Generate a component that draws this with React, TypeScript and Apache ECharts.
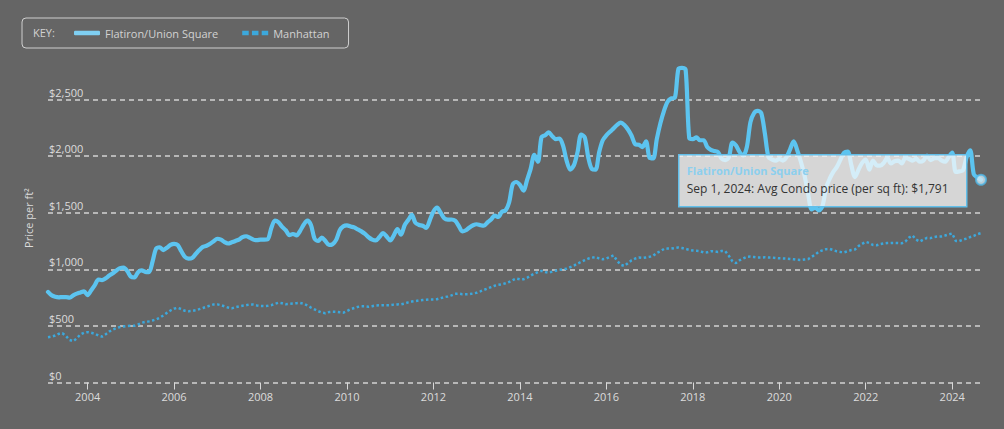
import React, { useEffect, useRef } from "react";
import * as echarts from "echarts";

// Monthly series, Feb 2003 .. Sep 2024
const START_YEAR = 2003;
const START_MONTH = 2; // February
const MONTH_NAMES = ["Jan", "Feb", "Mar", "Apr", "May", "Jun", "Jul", "Aug", "Sep", "Oct", "Nov", "Dec"];

const flatiron: number[] = [
  800, 770, 757, 752, 755, 755, 750, 770, 785, 795, 805, 772,
  815, 860, 910, 904, 920, 945, 965, 990, 1010, 1016, 985, 935,
  928, 975, 990, 977, 975, 1065, 1183, 1195, 1170, 1190, 1215, 1225,
  1215, 1160, 1110, 1095, 1100, 1135, 1170, 1198, 1208, 1225, 1248, 1270,
  1262, 1240, 1228, 1238, 1250, 1262, 1285, 1292, 1280, 1262, 1257, 1263,
  1262, 1265, 1365, 1430, 1415, 1375, 1345, 1302, 1312, 1300, 1340, 1395,
  1430, 1392, 1270, 1250, 1280, 1250, 1215, 1222, 1260, 1345, 1380, 1388,
  1378, 1370, 1352, 1335, 1312, 1283, 1262, 1255, 1285, 1320, 1290, 1255,
  1300, 1355, 1305, 1389, 1435, 1480, 1410, 1392, 1385, 1365, 1435, 1510,
  1545, 1500, 1450, 1438, 1440, 1430, 1385, 1335, 1345, 1370, 1389, 1398,
  1390, 1385, 1415, 1440, 1475, 1462, 1508, 1520, 1590, 1750, 1771, 1745,
  1695, 1790, 1890, 2010, 1950, 2168, 2185, 2210, 2175, 2150, 2155, 2090,
  1955, 1880, 1920, 2035, 2190, 2165, 1985, 1885, 1880, 2035, 2140, 2183,
  2215, 2245, 2275, 2295, 2275, 2235, 2180, 2105, 2100, 2080, 2130, 1985,
  1980, 2150, 2290, 2400, 2480, 2510, 2515, 2770, 2780, 2765, 2160, 2150,
  2165, 2140, 2140, 2080, 2055, 2045, 2035, 1977, 1965, 1990, 2120, 2094,
  2035, 2006, 2080, 2300, 2380, 2400, 2380, 2200, 1990, 1970, 1960, 1975,
  1960, 1990, 2060, 2130, 2050, 1950, 1830, 1670, 1530, 1545, 1520, 1560,
  1720, 1800, 1860, 1905, 1970, 2030, 2040, 1920, 1815, 1880, 1940, 1970,
  1880, 1960, 1920, 1915, 1940, 1985, 1935, 1955, 1960, 1935, 1985, 1975,
  1960, 1977, 1950, 1960, 2005, 1965, 1980, 1985, 1962, 1950, 1990, 2030,
  1860, 1865, 1874, 1990, 2050, 1840, 1812, 1791,
];

const manhattan: number[] = [
  400, 405, 415, 430, 435, 410, 375, 365, 390, 425, 440, 445,
  439, 430, 415, 405, 425, 450, 468, 480, 490, 495, 499, 501,
  501, 512, 528, 535, 540, 548, 557, 572, 592, 615, 636, 652,
  660, 648, 634, 630, 632, 638, 648, 658, 669, 680, 690, 690,
  683, 673, 662, 655, 665, 672, 678, 683, 690, 688, 681, 676,
  675, 678, 683, 695, 705, 700, 692, 695, 698, 701, 703, 695,
  680, 662, 646, 630, 617, 612, 622, 625, 624, 620, 617, 632,
  648, 658, 668, 673, 673, 669, 674, 681, 682, 683, 683, 683,
  688, 690, 691, 698, 708, 715, 720, 724, 728, 731, 734, 734,
  736, 745, 754, 760, 770, 783, 785, 780, 780, 780, 786, 793,
  805, 818, 830, 843, 855, 863, 868, 876, 888, 905, 919, 912,
  912, 925, 945, 962, 976, 986, 975, 970, 980, 988, 995, 1000,
  1005, 1020, 1033, 1050, 1065, 1080, 1095, 1103, 1108, 1096, 1088, 1095,
  1109, 1122, 1075, 1040, 1030, 1055, 1080, 1095, 1104, 1100, 1105, 1110,
  1120, 1145, 1160, 1180, 1183, 1183, 1188, 1192, 1188, 1180, 1172, 1166,
  1163, 1160, 1148, 1150, 1160, 1158, 1153, 1162, 1160, 1120, 1070, 1055,
  1080, 1095, 1110, 1112, 1108, 1104, 1104, 1106, 1104, 1104, 1100, 1097,
  1096, 1095, 1092, 1088, 1084, 1082, 1086, 1090, 1110, 1130, 1155, 1168,
  1178, 1180, 1170, 1158, 1153, 1150, 1160, 1170, 1175, 1205, 1225, 1242,
  1232, 1215, 1212, 1222, 1228, 1232, 1233, 1233, 1232, 1230, 1245, 1280,
  1298, 1262, 1245, 1262, 1278, 1275, 1285, 1290, 1290, 1298, 1308, 1316,
  1250, 1250, 1262, 1271, 1285, 1295, 1310, 1320,
];

const yTicks = [0, 500, 1000, 1500, 2000, 2500];
const seriesNames = ["Flatiron/Union Square", "Manhattan"];

const months: string[] = [];
for (let i = 0; i < flatiron.length; i++) {
  const m0 = START_MONTH - 1 + i;
  const y = START_YEAR + Math.floor(m0 / 12);
  const m = (m0 % 12) + 1;
  months.push(`${y}-${String(m).padStart(2, "0")}`);
}

const isEvenYearStart = (idx: number) => {
  const [y, m] = months[idx].split("-").map(Number);
  return m === 1 && y % 2 === 0;
};

const fmtMoney = (v: number) => "$" + v.toLocaleString("en-US");

export default function App() {
  const ref = useRef<HTMLDivElement>(null);

  useEffect(() => {
    document.body.style.margin = "0";
    if (!ref.current) return;
    const chart = echarts.init(ref.current, undefined, { renderer: "svg" });

    const lastIdx = flatiron.length - 1;
    const [ly, lm] = months[lastIdx].split("-").map(Number);
    const tipTitle = seriesNames[0];
    const tipText = `${MONTH_NAMES[lm - 1]} 1, ${ly}: Avg Condo price (per sq ft): ${fmtMoney(flatiron[lastIdx])}`;

    const labelColor = "#dcdcdc";
    const font = "'Open Sans', 'Noto Sans', sans-serif";

    chart.setOption({
      animation: false,
      backgroundColor: "#656565",
      textStyle: { fontFamily: font },
      grid: { left: 48, right: 23, top: 99.5, bottom: 46.5, containLabel: false },
      legend: {
        left: 22,
        top: 18,
        padding: [8, 19, 8, 52],
        itemGap: 24,
        itemWidth: 26,
        itemHeight: 4.5,
        borderColor: "#cfcfcf",
        borderWidth: 1,
        borderRadius: 4,
        textStyle: { color: "#d2d2d2", fontSize: 11, fontFamily: font, lineHeight: 14 },
        data: [
          { name: seriesNames[0], icon: "roundRect", itemStyle: { color: "#7fcff2" } },
          {
            name: seriesNames[1],
            icon: "path://M0,0h6v4h-6z M9,0h6v4h-6z M18,0h6v4h-6z",
            itemStyle: { color: "#3ca8dc" },
          },
        ],
      },
      xAxis: {
        type: "category",
        data: months,
        boundaryGap: false,
        axisLine: { show: false },
        axisTick: {
          show: true,
          interval: (idx: number) => isEvenYearStart(idx),
          length: 7,
          lineStyle: { color: "#d8d8d8", width: 1 },
        },
        axisLabel: {
          interval: (idx: number) => isEvenYearStart(idx),
          formatter: (v: string) => v.slice(0, 4),
          color: labelColor,
          fontSize: 11,
          margin: 8,
          fontFamily: font,
        },
        splitLine: { show: false },
      },
      yAxis: {
        type: "value",
        min: yTicks[0],
        max: yTicks[yTicks.length - 1],
        interval: 500,
        axisLine: { show: false },
        axisTick: { show: false },
        axisLabel: {
          inside: true,
          verticalAlign: "bottom",
          padding: [0, 0, 2, 0],
          margin: 1,
          color: labelColor,
          fontSize: 11,
          fontFamily: font,
          formatter: (v: number) => fmtMoney(v),
        },
        splitLine: {
          show: true,
          lineStyle: { color: "#d2d2d2", width: 1.5, type: [5, 4] },
        },
      },
      graphic: [
        {
          type: "text",
          left: 33,
          top: 27,
          style: { text: "KEY:", fill: "#d2d2d2", fontSize: 11, fontFamily: font },
        },
        {
          type: "text",
          x: 28,
          y: 218,
          rotation: Math.PI / 2,
          style: {
            text: "Price per ft²",
            fill: "#dcdcdc",
            fontSize: 11,
            fontFamily: font,
            align: "center",
            verticalAlign: "middle",
          },
        },
        {
          type: "group",
          left: 678,
          top: 154,
          z: 100,
          children: [
            {
              type: "rect",
              z: 100,
              shape: { x: 0, y: 0, width: 288, height: 52 },
              style: {
                fill: "rgba(250,250,250,0.76)",
                stroke: "#62bfea",
                lineWidth: 1.5,
              },
            },
            {
              type: "text",
              z: 101,
              x: 8,
              y: 16,
              style: {
                text: tipTitle,
                fill: "#8ccfee",
                fontSize: 11,
                fontWeight: "bold",
                fontFamily: font,
                verticalAlign: "middle",
              },
            },
            {
              type: "text",
              z: 101,
              x: 8,
              y: 34,
              style: {
                text: tipText,
                fill: "#333333",
                fontSize: 12,
                fontFamily: font,
                verticalAlign: "middle",
              },
            },
          ],
        },
      ],
      series: [
        {
          name: seriesNames[0],
          type: "line",
          data: flatiron,
          symbol: "none",
          smooth: 0.3,
          clip: false,
          z: 3,
          itemStyle: { color: "#5cc4f0" },
          lineStyle: { color: "#5cc4f0", width: 4.2, cap: "round", join: "round" },
        },
        {
          name: seriesNames[1],
          type: "line",
          data: manhattan,
          symbol: "none",
          clip: false,
          z: 2,
          itemStyle: { color: "#3ca8dc" },
          lineStyle: { color: "#3ca8dc", width: 2.5, type: [2.5, 2.5] },
        },
        {
          name: "highlight",
          type: "scatter",
          data: flatiron.map((v, i) => (i === lastIdx ? v : null)),
          symbol: "circle",
          symbolSize: 10,
          z: 200,
          itemStyle: {
            color: "#cfe8f4",
            borderColor: "#4fb6e6",
            borderWidth: 2,
          },
          silent: true,
        },
      ],
    });

    return () => chart.dispose();
  }, []);

  return <div ref={ref} style={{ width: 1004, height: 429 }} />;
}
